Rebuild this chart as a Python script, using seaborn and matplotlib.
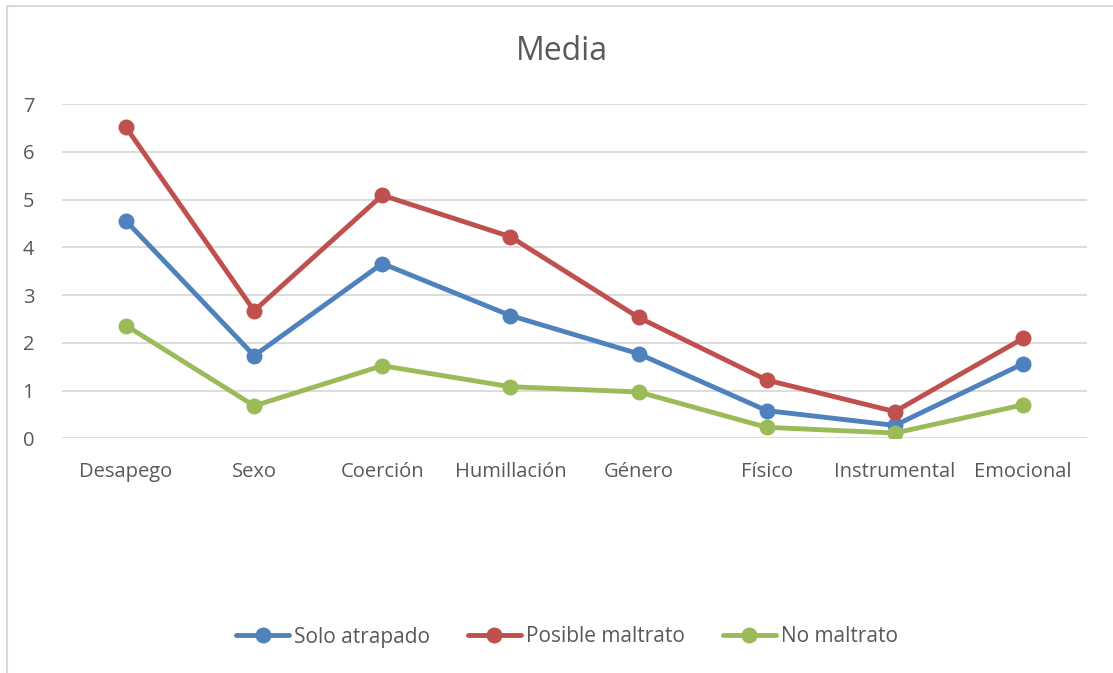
import pandas as pd
import seaborn as sns
import matplotlib.pyplot as plt
from matplotlib.patches import Rectangle

sns.set_theme(style="white")
plt.rcParams['font.family'] = ['Open Sans', 'DejaVu Sans']

categorias = ["Desapego", "Sexo", "Coerción", "Humillación", "Género", "Físico", "Instrumental", "Emocional"]
solo_atrapado = [4.55, 1.73, 3.66, 2.57, 1.77, 0.58, 0.27, 1.56]
posible_maltrato = [6.51, 2.67, 5.09, 4.22, 2.53, 1.22, 0.56, 2.09]
no_maltrato = [2.36, 0.68, 1.52, 1.08, 0.97, 0.23, 0.11, 0.70]
series = ["Solo atrapado", "Posible maltrato", "No maltrato"]
colores = ["#4F81BD", "#C0504D", "#9BBB59"]

df = pd.DataFrame({
    "categoria": categorias * 3,
    "valor": solo_atrapado + posible_maltrato + no_maltrato,
    "serie": [s for s in series for _ in categorias],
})

fig = plt.figure(figsize=(11.13, 6.73), dpi=100)
ax = fig.add_axes([62 / 1113, 1 - 438.3 / 673, (1087 - 62) / 1113, (438.3 - 104) / 673])

sns.lineplot(data=df, x="categoria", y="valor", hue="serie", palette=colores,
             marker="o", markersize=11.5, markeredgewidth=0, linewidth=3.5,
             sort=False, legend=False, ax=ax)

ax.set_xlim(-0.5, 7.5)
ax.set_ylim(0, 7)
ax.set_yticks(range(0, 8))
ax.grid(axis="y", color="#D9D9D9", linewidth=1.3)
ax.set_axisbelow(True)
for s in ax.spines.values():
    s.set_visible(False)
ax.set_xlabel("")
ax.set_ylabel("")
ax.tick_params(axis="both", length=0, labelsize=14.5, colors="#595959")
ax.tick_params(axis="x", pad=17)
ax.tick_params(axis="y", pad=20)

fig.text(562 / 1113, 1 - 52 / 673, "Media", ha="center", va="center", fontsize=23, color="#595959")

handles = [plt.Line2D([], [], color=c, linewidth=3.5, marker="o", markersize=11.5, markeredgewidth=0) for c in colores]
fig.legend(handles, series, loc="center", bbox_to_anchor=(567 / 1113, 1 - 637 / 673), ncol=3, frameon=False,
           fontsize=15, labelcolor="#595959", handlelength=2.55, handletextpad=0.25, columnspacing=1.8)

fig.patches.append(Rectangle((6.5 / 1113, -0.1), 1.2, 1 - 6.5 / 673 + 0.1, transform=fig.transFigure,
                             fill=False, edgecolor="#D9D9D9", linewidth=1.5))

plt.savefig("out.png", dpi=100)
